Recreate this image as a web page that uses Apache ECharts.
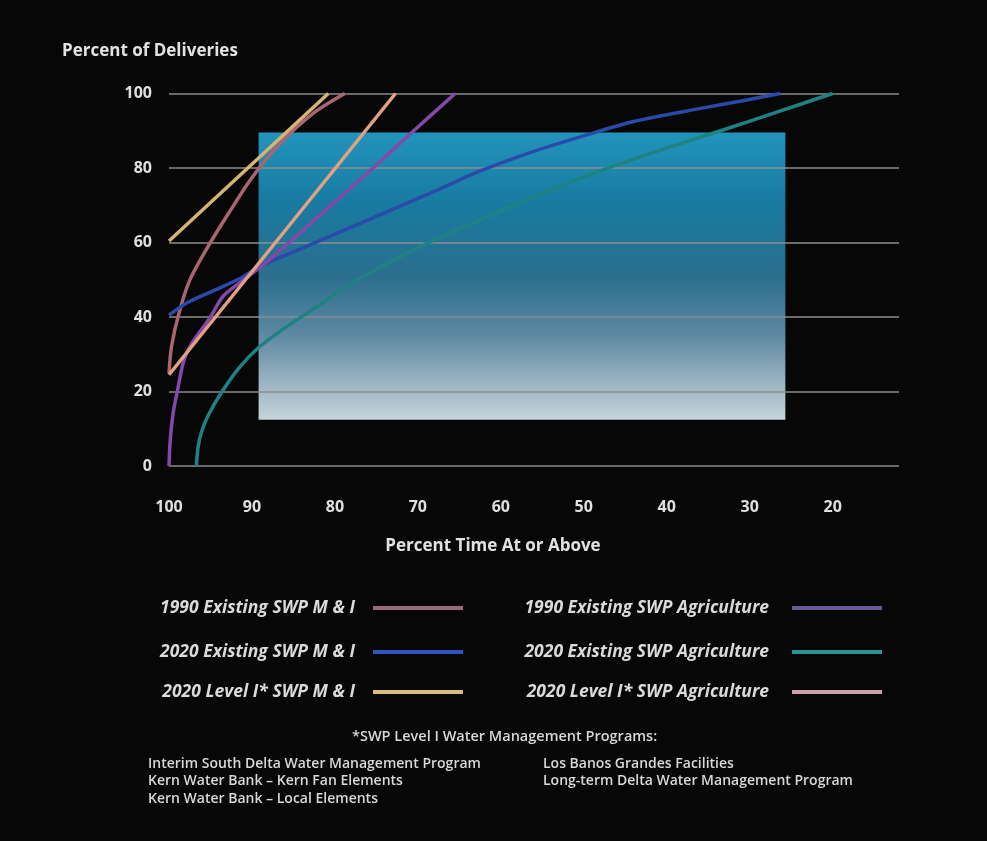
<!DOCTYPE html>
<html><head><meta charset="utf-8">
<script src="https://cdn.jsdelivr.net/npm/echarts@6/dist/echarts.min.js"></script>
<style>html,body{margin:0;padding:0;background:#070707;}#c{width:987px;height:841px;}</style>
</head><body><div id="c"></div>
<script>
// ---- data ----
const xTickLabels = [100, 90, 80, 70, 60, 50, 40, 30, 20];
const yTickLabels = [0, 20, 40, 60, 80, 100];
const seriesNames = [
  '1990 Existing SWP M & I',
  '2020 Existing SWP M & I',
  '2020 Level I* SWP M & I',
  '1990 Existing SWP Agriculture',
  '2020 Existing SWP Agriculture',
  '2020 Level I* SWP Agriculture'
];
const mi1990 = [[100,24.9],[99.7,32],[98.8,41],[97.5,49.9],[95.3,58.9],[92.8,67.9],[90.2,76.8],[87,85.7],[82.6,94.7],[78.8,100]];
const mi2020 = [[100,40.5],[97.9,43.7],[94.5,47.2],[91.4,50.4],[89.1,53.5],[84,58.4],[79.5,62.7],[75.4,66.6],[72.1,69.8],[68,73.7],[62.7,79],[56.1,84.4],[49.6,88.9],[44,92.5],[35.9,96],[30.5,98.2],[26.3,100]];
const mi2020L1 = [[100,60.4],[80.8,100]];
const ag1990 = [[100,0],[99.85,7],[99.5,14.2],[99,20],[98.3,27.6],[97.5,32],[95,40],[93.5,45.5],[91.3,49.5],[89.1,53.2],[86.2,58.6],[83.4,64.2],[79.4,72.1],[75.4,80],[70.5,90],[65.5,100]];
const ag2020 = [[96.7,0],[96.5,5],[96.1,9],[95.3,13.5],[93.6,20],[91.5,26.5],[89.1,32],[86.2,36.8],[83.4,41],[80.3,45.6],[77.4,49.9],[72.1,56.2],[68.5,60.2],[62.5,66.1],[55,73.2],[47.2,79.9],[40.5,85],[33.5,90],[27,94.8],[20,100]];
const ag2020L1 = [[100,24.5],[72.7,100]];
const highlightX = [89.2, 25.7];
const highlightY = [12.4, 89.5];
const footnoteTitle = '*SWP Level I Water Management Programs:';
const footnoteLeft = ['Interim South Delta Water Management Program','Kern Water Bank \u2013 Kern Fan Elements','Kern Water Bank \u2013 Local Elements'];
const footnoteRight = ['Los Banos Grandes Facilities','Long-term Delta Water Management Program'];

// ---- styles ----
const FONT = 'Open Sans';
const lineColors = ['#a86670','#2a4aaa','#d6b474','#8448a8','#1f8282','#e2a282'];
const legendColors = ['#9c6a7a','#3252bc','#d8ba84','#6a5a94','#2a9494','#cca2aa'];
const seriesData = [mi1990, mi2020, mi2020L1, ag1990, ag2020, ag2020L1];
const smoothFlags = [0.3, 0.3, false, 0.3, 0.3, false];

const chart = echarts.init(document.getElementById('c'), null, {renderer:'canvas'});

const series = [{
  type: 'line', name: 'panel', data: [], z: -1, silent: true,
  markArea: {
    silent: true, z: -1,
    itemStyle: {
      color: new echarts.graphic.LinearGradient(0,0,0,1,[
        {offset:0, color:'#2294bc'},
        {offset:0.25, color:'#187aa0'},
        {offset:0.5, color:'#2c6e8e'},
        {offset:0.7, color:'#5b88a2'},
        {offset:0.86, color:'#98b1c0'},
        {offset:1, color:'#c6d3da'}
      ])
    },
    data: [[{coord:[highlightX[0], highlightY[1]]},{coord:[highlightX[1], highlightY[0]]}]]
  }
}];
seriesNames.forEach((n,i)=>{
  series.push({
    type:'line', name:n, data: seriesData[i], showSymbol:false, smooth: smoothFlags[i],
    lineStyle:{color: lineColors[i], width: 3.5}, itemStyle:{color: lineColors[i]}, z: 3
  });
});

const legendPos = [
  {right: 519, top: 594}, {right: 519, top: 638}, {right: 519, top: 678},
  {right: 100, top: 594}, {right: 100, top: 638}, {right: 100, top: 678}
];
const legends = seriesNames.map((n,i)=>({
  data: [{name:n, itemStyle:{color: legendColors[i]}}],
  right: legendPos[i].right, top: legendPos[i].top,
  align: 'right', icon: 'rect', itemWidth: 90, itemHeight: 4,
  selectedMode: false,
  textStyle: {color:'#dadada', fontSize:17.5, fontStyle:'italic', fontWeight:'bold', fontFamily: FONT, padding:[0, i<3?13:18, 0, 0]}
}));

const FN = '600 14px "'+FONT+'"';
const graphics = [{
  type:'text', left: 352, top: 729,
  style:{text: footnoteTitle, fill:'#d8d8d8', font: '600 14.5px "'+FONT+'"'}
}];
footnoteLeft.forEach((t,i)=>graphics.push({type:'text', left:148, top:757+i*17.5, style:{text:t, fill:'#d8d8d8', font:FN}}));
footnoteRight.forEach((t,i)=>graphics.push({type:'text', left:543, top:757+i*17.5, style:{text:t, fill:'#d8d8d8', font:FN}}));

chart.setOption({
  backgroundColor: '#070707',
  animation: false,
  title: {text:'Percent of Deliveries', left: 57, top: 38, textStyle:{color:'#e2e2e2', fontSize:17, fontWeight:'bold', fontFamily: FONT}},
  grid: {left:169, right:88, top:93.5, height:372.5, containLabel:false},
  xAxis: {
    type:'value', inverse:true, min:12, max:100,
    name:'Percent Time At or Above', nameLocation:'middle', nameGap:72,
    nameTextStyle:{color:'#e2e2e2', fontSize:17, fontWeight:'bold', fontFamily: FONT, padding:[0,82,0,0]},
    axisLine:{show:false}, axisTick:{show:false}, splitLine:{show:false},
    axisLabel:{customValues: xTickLabels, color:'#e0e0e0', fontSize:16, fontWeight:'bold', fontFamily: FONT, margin:33}
  },
  yAxis: {
    type:'value', min:0, max:100, interval:20,
    axisLine:{show:false}, axisTick:{show:false},
    splitLine:{show:true, lineStyle:{color:'#8c8c8c', width:1.6}},
    axisLabel:{customValues: yTickLabels, color:'#e0e0e0', fontSize:16, fontWeight:'bold', fontFamily: FONT, margin:17}
  },
  legend: legends,
  series: series,
  graphic: graphics
});
</script></body></html>
